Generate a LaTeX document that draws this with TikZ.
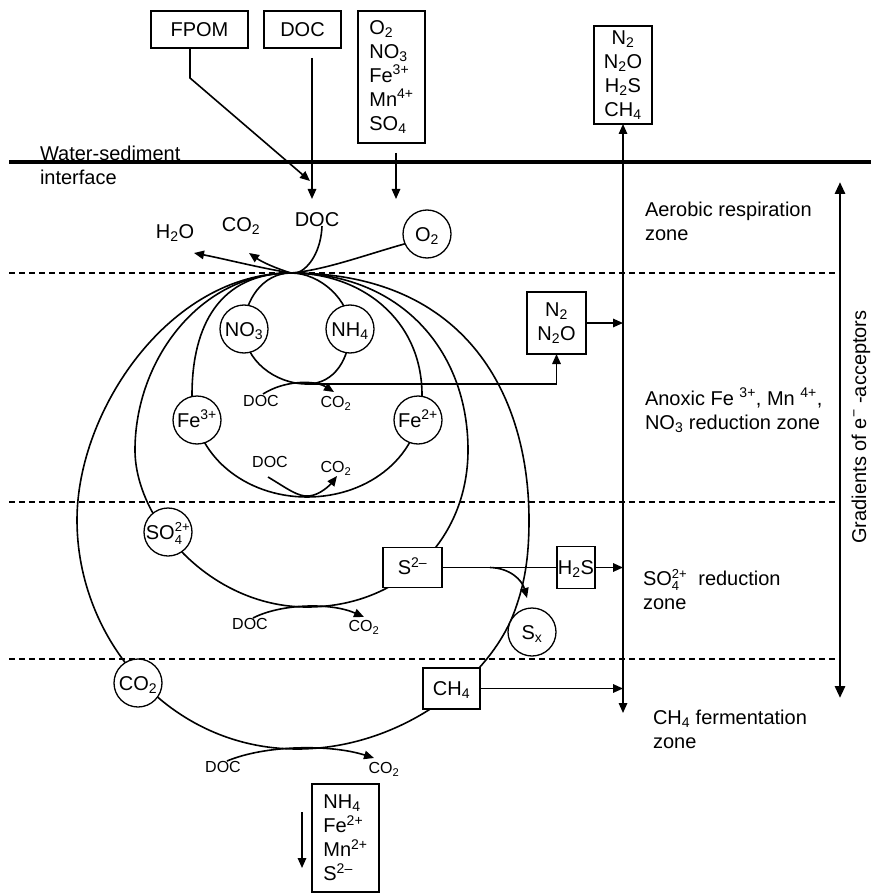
\documentclass[tikz,border=0pt]{standalone}
\usepackage{fontspec}
\setmainfont{Liberation Sans}
\usetikzlibrary{arrows.meta}
\newcommand{\subx}[1]{\textsubscript{#1}}
\newcommand{\supx}[1]{\textsuperscript{#1}}
\newcommand{\sofour}{SO\ensuremath{^{\mbox{\fontsize{13}{13}\selectfont 2+}}_{\mbox{\fontsize{13}{13}\selectfont 4}}}}
\begin{document}
\begin{tikzpicture}[x=1pt,y=-1pt,
  every node/.style={inner sep=0pt, outer sep=0pt},
  txt/.style={font=\fontsize{20}{24}\selectfont},
  one/.style={txt, text height=14.4pt, text depth=0pt},
  small/.style={font=\fontsize{16}{19}\selectfont, text height=11.5pt, text depth=0pt},
  box/.style={draw, line width=1.3pt, fill=white},
  spc/.style={draw, circle, line width=1.3pt, fill=white, minimum size=48pt, one},
  lp/.style={line width=1.6pt},
  arr/.style={line width=1.6pt, -{Triangle[length=10pt,width=8.5pt]}},
  dsh/.style={line width=1.3pt, dash pattern=on 6pt off 4pt},
]
\useasboundingbox (0,0) rectangle (871,893);

% interface and zone limits
\draw[line width=3.2pt] (9,162) -- (871,162);
\draw[dsh] (9,273) -- (837,273);
\draw[dsh] (9,502) -- (837,502);
\draw[dsh] (9,659) -- (837,659);

\node[txt, anchor=west, align=left] (ws) at (40,165) {Water-sediment\\interface};

% key coordinates
\coordinate (P) at (291,273);
\coordinate (b1) at (307,384);
\coordinate (b2) at (307,497);
\coordinate (b3) at (307,607);
\coordinate (b4) at (297,749);
\coordinate (cNO3) at (244,329);
\coordinate (cNH4) at (350,329);
\coordinate (cFe3) at (197,420);
\coordinate (cFe2) at (418,420);
\coordinate (cSO4) at (168,532);
\coordinate (cCO2) at (138,683);
\coordinate (cS2) at (412.5,567.5);
\coordinate (cCH4) at (451.5,688.5);
\coordinate (cSx) at (532,632);
\coordinate (cO2) at (427,234);

% loops
\draw[lp] (P) .. controls (263,273) and (244,300) .. (cNO3)
  .. controls (244,360) and (275,384) .. (b1)
  .. controls (335,384) and (350,358) .. (cNH4)
  .. controls (350,300) and (320,273) .. (P);
\draw[lp] (P) .. controls (220,273) and (192,325) .. (192,395)
  .. controls (192,455) and (245,497) .. (b2)
  .. controls (370,497) and (422,455) .. (422,395)
  .. controls (422,320) and (362,273) .. (P);
\draw[lp] (P) .. controls (200,273) and (135,360) .. (135,450)
  .. controls (135,520) and (210,607) .. (b3)
  .. controls (400,607) and (468,540) .. (468,450)
  .. controls (468,350) and (400,273) .. (P);
\draw[lp] (P) .. controls (170,273) and (77,410) .. (77,520)
  .. controls (77,640) and (170,749) .. (b4)
  .. controls (400,749) and (490,680) .. (515,610)
  .. controls (524,585) and (529,560) .. (529,520)
  .. controls (529,400) and (470,273) .. (P);

% DOC -> CO2 turnovers
\node[small] (d1) at (261,401) {DOC};
\node[small] (c1) at (336,402) {CO\subx{2}};
\node[small] (d2) at (270,462) {DOC};
\node[small] (c2) at (336,467) {CO\subx{2}};
\node[small] (d3) at (250,624) {DOC};
\node[small] (c3) at (364,626) {CO\subx{2}};
\node[small] (d4) at (223,767) {DOC};
\node[small] (c4) at (384,768) {CO\subx{2}};
\draw[arr] (263,394) .. controls (285,380) and (315,380) .. (334,392);
\draw[arr] (268,477) .. controls (288,489) and (298,497) .. (309,496)
  .. controls (320,495) and (330,485) .. (337,476);
\draw[arr] (253,618) .. controls (280,604) and (330,602) .. (364,617);
\draw[arr] (227,761) .. controls (265,745) and (330,744) .. (374,758);

% species circles
\node[spc] (no3) at (cNO3) {NO\subx{3}};
\node[spc] (nh4) at (cNH4) {NH\subx{4}};
\node[spc] (fe3) at (cFe3) {Fe\supx{3+}};
\node[spc] (fe2) at (cFe2) {Fe\supx{2+}};
\node[spc] (so4) at (cSO4) {\sofour};
\node[spc] (co2) at (cCO2) {CO\subx{2}};
\node[spc] (sx) at (cSx) {S\subx{x}};
\node[spc] (o2) at (cO2) {O\subx{2}};

% boxes in the sediment
\node[box, one, minimum width=59pt, minimum height=40pt] (s2) at (cS2) {S\supx{2--}};
\node[box, one, minimum width=57pt, minimum height=41pt] (ch4) at (cCH4) {CH\subx{4}};
\node[box, one, minimum width=38pt, minimum height=42pt] (h2s) at (576,567.5) {H\subx{2}S};
\node[box, txt, align=center, minimum width=59pt, minimum height=62pt] (n2box) at (556.5,323) {N\subx{2}\\N\subx{2}O};

% top boxes
\node[box, one, minimum width=97pt, minimum height=37pt] (fpom) at (199.5,29.5) {FPOM};
\node[box, one, minimum width=77pt, minimum height=37pt] (docbox) at (302.5,29.5) {DOC};
\node[box, txt, align=left, minimum width=67pt, minimum height=132pt] (acc) at (391.5,77) {O\subx{2}\\NO\subx{3}\\Fe\supx{3+}\\Mn\supx{4+}\\SO\subx{4}};
\node[box, txt, align=center, minimum width=58pt, minimum height=98pt] (gas) at (623,75) {N\subx{2}\\N\subx{2}O\\H\subx{2}S\\CH\subx{4}};
\node[box, txt, align=left, minimum width=67pt, minimum height=108pt] (bot) at (345.5,838) {NH\subx{4}\\Fe\supx{2+}\\Mn\supx{2+}\\S\supx{2--}};

% labels near the surface
\node[one] (doclbl) at (317,219) {DOC};
\node[one] (co2lbl) at (241,224) {CO\subx{2}};
\node[one] (h2olbl) at (175,231) {H\subx{2}O};

% inputs from water column
\coordinate (fbend) at (190,78);
\coordinate (fin) at (310,181);
\coordinate (docin) at (312,199);
\coordinate (accin) at (396,199);
\draw[arr] ([xshift=-9.5pt]fpom.south) -- (fbend) -- (fin);
\draw[arr] ([xshift=9.5pt,yshift=-10pt]docbox.south) -- (docin);
\draw[arr] ([xshift=4.5pt,yshift=-10pt]acc.south) -- (accin);

% surface exchange
\coordinate (h2otip) at (194,253);
\coordinate (co2tip) at (249,253);
\draw[arr] (P) .. controls (260,268) and (225,259) .. (h2otip);
\draw[arr] (P) .. controls (275,268) and (262,262) .. (co2tip);
\draw[lp] ([xshift=5pt]doclbl.south) .. controls (321,250) and (310,268) .. (297,273);
\draw[lp] (o2.204) .. controls (365,255) and (325,270) .. (P);

% gas release column
\coordinate (vbot) at (623,713);
\draw[line width=1.6pt, {Triangle[length=10pt,width=8.5pt]}-{Triangle[length=10pt,width=8.5pt]}] (gas.south) -- (vbot);
\draw[arr] (n2box.east) -- (n2box.east -| vbot);
\draw[arr] (b1) -- (b1 -| n2box.south) -- (n2box.south);
\draw[lp] (s2.east) -- (h2s.west);
\draw[arr] (h2s.east) -- (h2s.east -| vbot);
\coordinate (sxs) at (490,567.5);
\coordinate (sxt) at (527,598);
\draw[arr] (sxs) .. controls (510,568) and (522,580) .. (sxt);
\draw[arr] (ch4.east) -- (ch4.east -| vbot);

% export downward
\coordinate (dtop) at (302,812);
\coordinate (dbot) at (302,868);
\draw[arr] (dtop) -- (dbot);

% zone labels
\node[txt, anchor=west, align=left] (z1) at (645,221.5) {Aerobic respiration\\zone};
\node[txt, anchor=west, align=left] (z2) at (645,410) {Anoxic Fe \supx{3+}, Mn \supx{4+},\\NO\subx{3} reduction zone};
\node[txt, anchor=west, align=left] (z3) at (643,589.5) {\sofour\ \ reduction\\zone};
\node[txt, anchor=west, align=left] (z4) at (653,729) {CH\subx{4} fermentation\\zone};

% gradient arrow
\coordinate (gtop) at (840,182);
\coordinate (gbot) at (840,698);
\draw[line width=2.8pt, {Triangle[length=12pt,width=10pt]}-{Triangle[length=12pt,width=10pt]}] (gtop) -- (gbot);
\node[txt, rotate=90] (grad) at (861,427) {Gradients of e\supx{−} -acceptors};
\end{tikzpicture}
\end{document}
